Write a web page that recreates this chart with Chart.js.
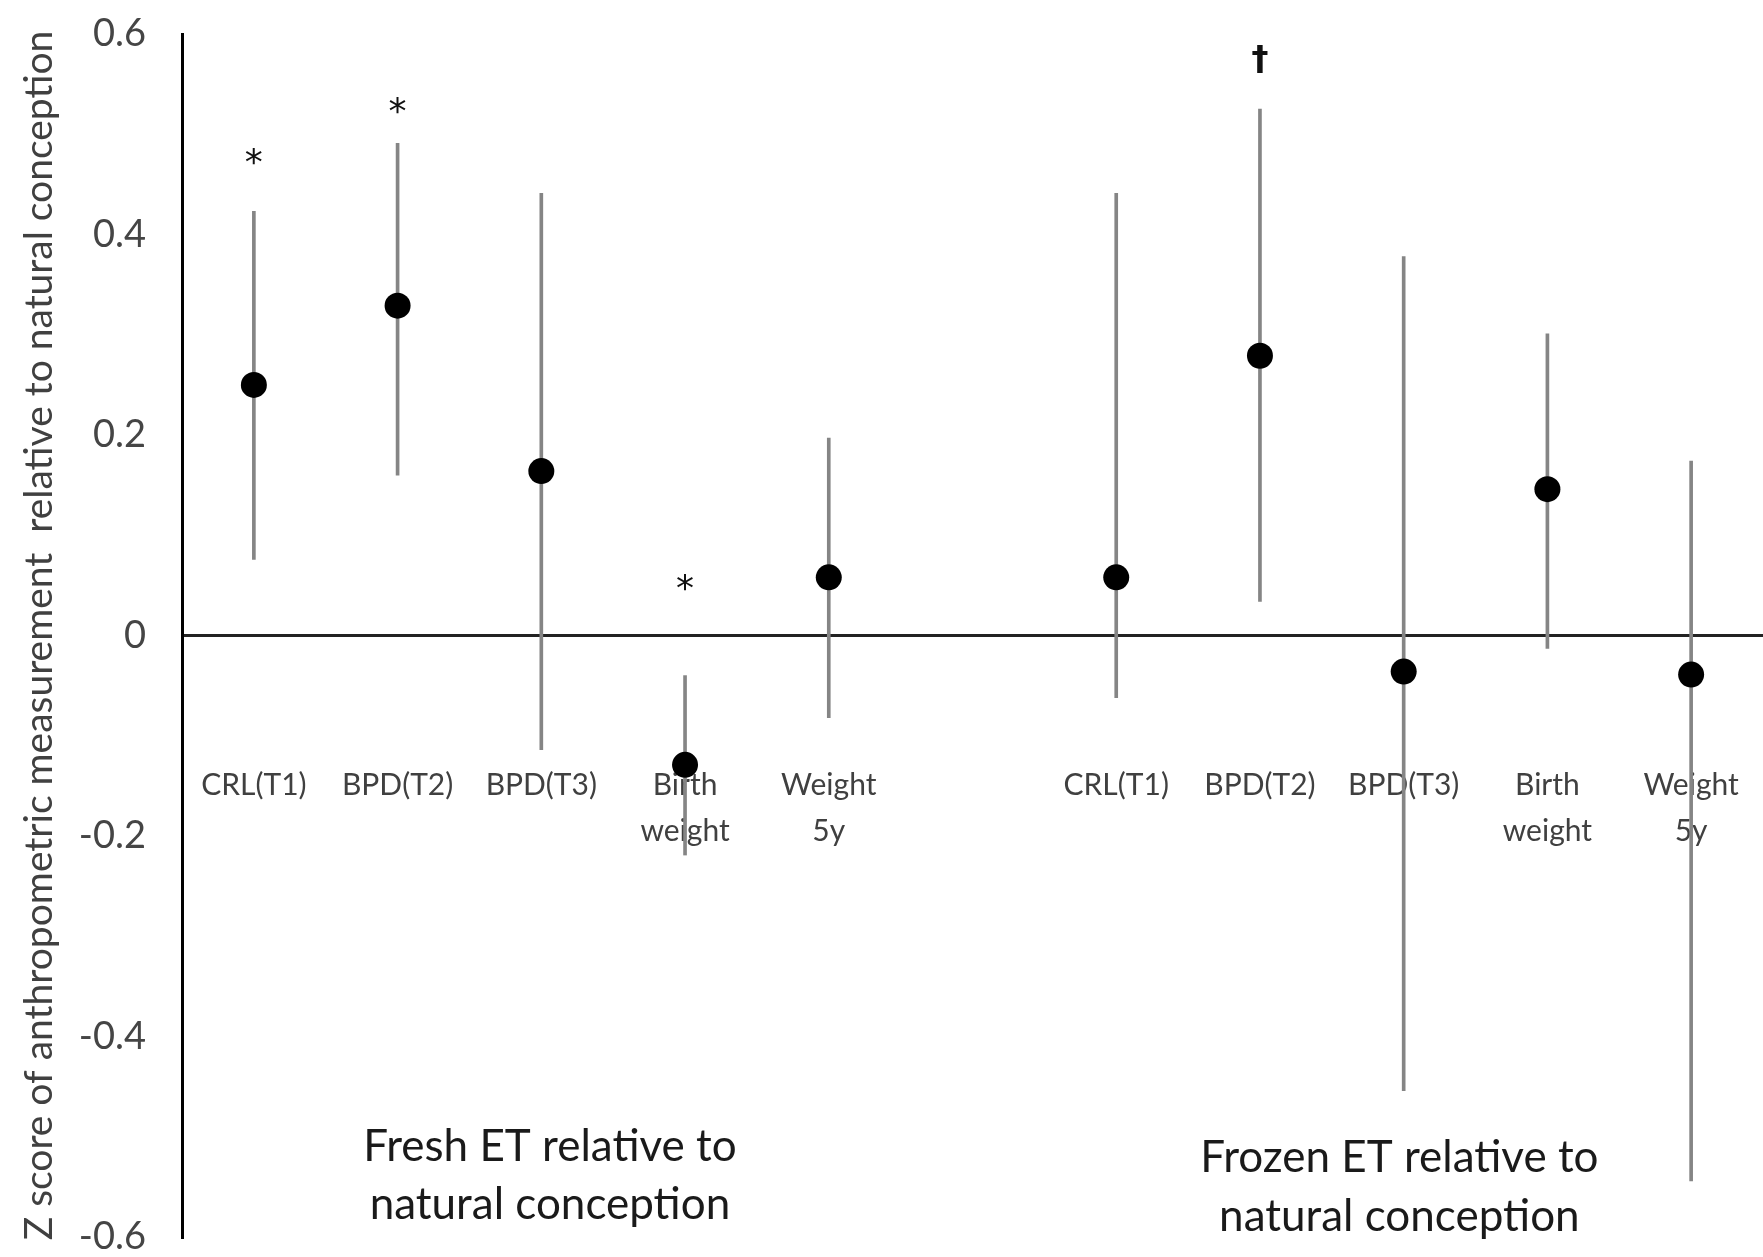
<!DOCTYPE html>
<html>
<head>
<meta charset="utf-8">
<script src="https://cdn.jsdelivr.net/npm/chart.js@4.4.1/dist/chart.umd.min.js"></script>
<style>
  html, body { margin: 0; padding: 0; background: #fff; overflow: hidden; }
  #wrap { width: 1763px; height: 1257px; }
</style>
</head>
<body>
<div id="wrap"><canvas id="zChart"></canvas></div>
<script>
// categories (slot 5 is the blank gap between the two groups)
const categories = [
    "CRL(T1)", "BPD(T2)", "BPD(T3)", ["Birth", "weight"], ["Weight", "5y"],
    "",
    "CRL(T1)", "BPD(T2)", "BPD(T3)", ["Birth", "weight"], ["Weight", "5y"]
];
const zScores = [0.250, 0.329, 0.164, -0.129, 0.058, null, 0.058, 0.279, -0.036, 0.146, -0.039];
const ciLow   = [0.076, 0.160, -0.114, -0.219, -0.082, null, -0.062, 0.034, -0.454, -0.013, -0.544];
const ciHigh  = [0.423, 0.491, 0.441, -0.040, 0.197, null, 0.441, 0.525, 0.378, 0.301, 0.174];
const sigMarks = ["*", "*", "", "*", "", "", "", "\u2020", "", "", ""];
const sigY     = [0.470, 0.521, null, 0.045, null, null, null, 0.573, null, null, null];
const yTicks = [-0.6, -0.4, -0.2, 0, 0.2, 0.4, 0.6];
const groupNotes = [
    { slot: 2.06, lines: ["Fresh ET relative to", "natural conception"], y: [-0.51, -0.568] },
    { slot: 7.97, lines: ["Frozen ET relative to", "natural conception"], y: [-0.521, -0.58] }
];

const FONT = "Lato, 'Liberation Sans', sans-serif";

const ciRanges = ciLow.map((lo, i) => lo === null ? null : [lo, ciHigh[i]]);

// asterisks / dagger and the two group captions
const notesPlugin = {
    id: "notes",
    afterDatasetsDraw(chart) {
        const ctx = chart.ctx;
        const xs = chart.scales.x, ys = chart.scales.y;
        ctx.save();
        ctx.fillStyle = "#111";
        ctx.textAlign = "center";
        ctx.textBaseline = "middle";
        sigMarks.forEach((m, i) => {
            if (!m) return;
            ctx.font = (m === "*" ? "36px" : "bold 34px") + " 'DejaVu Sans', sans-serif";
            ctx.fillText(m, xs.getPixelForValue(i), ys.getPixelForValue(sigY[i]));
        });
        ctx.font = "44px " + FONT;
        ctx.fillStyle = "#1a1a1a";
        groupNotes.forEach(g => {
            g.lines.forEach((t, k) => {
                ctx.fillText(t, xs.getPixelForValue(g.slot), ys.getPixelForValue(g.y[k]));
            });
        });
        ctx.restore();
    }
};

const zChart = new Chart(document.getElementById("zChart").getContext("2d"), {
    type: "bar",
    data: {
        labels: categories,
        datasets: [
            {
                type: "line",
                data: zScores,
                showLine: false,
                pointRadius: 13,
                pointHoverRadius: 13,
                pointBackgroundColor: "#000",
                pointBorderColor: "#000",
                pointBorderWidth: 0,
                order: 0
            },
            {
                type: "bar",
                data: ciRanges,
                backgroundColor: "#858585",
                borderWidth: 0,
                barThickness: 3,
                grouped: false,
                order: 1
            }
        ]
    },
    options: {
        responsive: true,
        maintainAspectRatio: false,
        animation: false,
        layout: { autoPadding: false, padding: { top: 34, bottom: 20, left: 0, right: 0 } },
        plugins: {
            legend: { display: false },
            tooltip: { enabled: false }
        },
        scales: {
            x: {
                type: "category",
                position: { y: -0.126 },
                offset: true,
                afterFit(scale) { scale.paddingLeft = 0; scale.paddingRight = 0; },
                grid: { display: false, drawTicks: false },
                border: { display: false },
                ticks: {
                    autoSkip: false,
                    maxRotation: 0,
                    padding: 0,
                    color: "#404040",
                    font: { family: FONT, size: 30, lineHeight: 1.55 }
                }
            },
            y: {
                min: -0.6,
                max: 0.6,
                afterFit(scale) {
                    scale.width = 182;
                    scale.paddingTop = 0;
                    scale.paddingBottom = 0;
                },
                afterBuildTicks(scale) { scale.ticks = yTicks.map(v => ({ value: v })); },
                border: { display: true, color: "#000", width: 3 },
                grid: {
                    drawTicks: false,
                    color: c => c.tick && c.tick.value === 0 ? "#222" : "rgba(0,0,0,0)",
                    lineWidth: 3
                },
                ticks: {
                    padding: 36,
                    color: "#454545",
                    font: { family: FONT, size: 38 },
                    callback: v => v === 0 ? "0" : v.toFixed(1)
                },
                title: {
                    display: true,
                    text: "Z score of anthropometric measurement  relative to natural conception",
                    color: "#404040",
                    font: { family: FONT, size: 39 },
                    padding: { top: 16, bottom: 0 }
                }
            }
        }
    },
    plugins: [notesPlugin]
});
</script>
</body>
</html>
